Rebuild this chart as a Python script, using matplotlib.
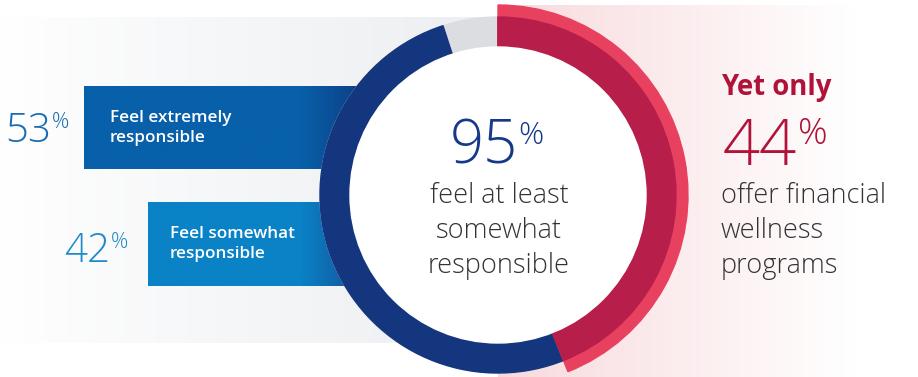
import numpy as np
import matplotlib.pyplot as plt
from matplotlib.patches import Wedge, Circle
from matplotlib.colors import to_rgb

# ---- data ----
bar_labels = ["Feel extremely\nresponsible", "Feel somewhat\nresponsible"]
bar_values = [53, 42]
total_responsible = 95
offer_programs = 44
center_caption = "feel at least\nsomewhat\nresponsible"
right_caption = "offer financial\nwellness\nprograms"

W, H = 918, 377
plt.rcParams['font.family'] = ['Open Sans', 'DejaVu Sans']

fig = plt.figure(figsize=(W / 100, H / 100), dpi=100)
ax = fig.add_axes([0, 0, 1, 1])
ax.set_xlim(0, W)
ax.set_ylim(H, 0)
ax.set_aspect('equal')
ax.axis('off')


def hgrad(x0, x1, y0, y1, c0, c1, z, stops=None):
    """horizontal gradient rectangle drawn as an image"""
    n = 256
    t = np.linspace(0, 1, n)
    if stops is not None:
        t = np.interp(t, stops[0], stops[1])
    a, b = np.array(to_rgb(c0)), np.array(to_rgb(c1))
    img = a[None, :] * (1 - t[:, None]) + b[None, :] * t[:, None]
    ax.imshow(img[None, :, :], extent=(x0, x1, y1, y0), aspect='auto',
              zorder=z, interpolation='bilinear')


def pct(x, yb, value, size, psize, col, ptop):
    """big number with a small raised % sign right after it"""
    t = ax.text(x, yb, f"{value}", fontsize=size, color=col, ha='right',
                va='baseline', fontweight='light', zorder=7)
    fig.canvas.draw()
    bb = t.get_window_extent().transformed(ax.transData.inverted())
    ax.text(bb.x1 + 0.5, ptop, '%', fontsize=psize, color=col, ha='left',
            va='top', fontweight='light', zorder=7)


cx, cy = 498, 195
r_in, r_mid, r_out = 148, 178, 190

# backgrounds
hgrad(0, cx, 17, 343, '#ffffff', '#eceef1', 0, stops=([0, 0.15, 1], [0, 0.2, 1]))
hgrad(cx, W, 5, H, '#f8dadd', '#ffffff', 0, stops=([0, 0.85, 1], [0, 1, 1]))

# bars (lengths proportional to values, ending under the ring)
bar_end = 392
px_per_pct = 5.82
bar_tops = [86, 202]
bar_h = [83, 84]
bar_cols = [('#0760a9', '#0e3d84'), ('#0a82c6', '#164f96')]
for i, v in enumerate(bar_values):
    x0 = bar_end - v * px_per_pct
    frac = (300 - x0) / (bar_end - x0)
    hgrad(x0, bar_end, bar_tops[i], bar_tops[i] + bar_h[i],
          bar_cols[i][0], bar_cols[i][1], 1,
          stops=([0, frac, 0.7 + 0.3 * frac, 1], [0, 0, 1, 1]))

# ring (y axis inverted -> increasing data angle runs clockwise on screen)
start = -90
red_span = offer_programs / 100 * 360
blue_span = total_responsible / 100 * 360
ax.add_patch(Wedge((cx, cy), r_mid, 0, 360, width=r_mid - r_in,
                   color='#dcdde0', zorder=2))
ax.add_patch(Wedge((cx, cy), r_mid, start, start + blue_span, width=r_mid - r_in,
                   color='#14367e', zorder=3))
ax.add_patch(Wedge((cx, cy), r_out, start, start + red_span, width=r_out - r_in,
                   color='#e8415f', zorder=4))
ax.add_patch(Wedge((cx, cy), r_mid, start, start + red_span, width=r_mid - r_in,
                   color='#b81e4a', zorder=5))
ax.add_patch(Circle((cx, cy), r_in, color='white', zorder=6))

# left percentages
pct(51, 142, bar_values[0], 29, 15.5, '#1b6cb4', 112)
pct(110, 262, bar_values[1], 29, 15.5, '#1d8bcb', 232)

# bar labels
label_x = [110, 170]
label_y = [128, 244]
for i, lab in enumerate(bar_labels):
    ax.text(label_x[i], label_y[i], lab, fontsize=12.3, color='white',
            fontweight='semibold', ha='left', va='center', linespacing=1.35,
            zorder=7)

# center
pct(518, 163, total_responsible, 43, 22.5, '#15398a', 120)
ax.text(cx + 1, 231, center_caption, fontsize=19.5, color='#333333',
        ha='center', va='center', linespacing=1.32, fontweight='light', zorder=7)

# right side
ax.text(721, 87, "Yet only", fontsize=19.8, color='#b0123a', fontweight='bold',
        ha='left', va='center', zorder=7)
pct(797, 165, offer_programs, 47, 26.5, '#b0123a', 116)
ax.text(721, 231, right_caption, fontsize=19.5, color='#333333', ha='left',
        va='center', linespacing=1.32, fontweight='light', zorder=7)

fig.savefig('out.png', dpi=100)
